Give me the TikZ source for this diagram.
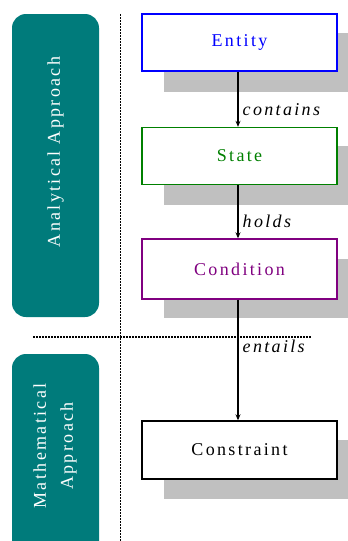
\documentclass[tikz,border=0pt]{standalone}
\usepackage{fontspec}
\setmainfont{Liberation Serif}
\usetikzlibrary{arrows.meta}
\definecolor{tealband}{RGB}{0,123,123}
\definecolor{shadowgray}{RGB}{192,192,192}
\definecolor{entityblue}{RGB}{0,0,255}
\definecolor{stategreen}{RGB}{0,128,0}
\definecolor{condpurple}{RGB}{128,0,128}
\newcommand{\spaced}{\addfontfeatures{LetterSpace=13}}
\tikzset{
  conceptbox/.style={draw, line width=1.4pt, fill=white, minimum width=195pt,
    minimum height=57pt, inner sep=0pt, font=\fontsize{18}{21}\selectfont\spaced},
  boxshadow/.style={fill=shadowgray, draw=none, minimum width=195pt,
    minimum height=59pt, inner sep=0pt},
  band/.style={fill=tealband, rounded corners=14pt},
  bandlabel/.style={text=white, rotate=90, font=\fontsize{18}{27}\selectfont\spaced,
    align=center, inner sep=0pt},
  flow/.style={line width=1.4pt, -{Stealth[length=6pt,width=5pt]}},
  flowlabel/.style={font=\fontsize{18}{21}\selectfont\itshape\spaced,
    anchor=west, inner sep=0pt, xshift=4pt},
  divider/.style={line width=1.6pt, dash pattern=on 1.5pt off 1.5pt}
}
\begin{document}
\begin{tikzpicture}[x=1pt,y=-1pt]
  \useasboundingbox (0,0) rectangle (348,541);
  \clip (0,0) rectangle (348,541);

  % approach bands on the left
  \fill[band] (12,14) rectangle (99,317);
  \fill[band] (12,354) rectangle (99,560);
  \node[bandlabel] (analytical) at (55.5,152) {Analytical Approach};
  \node[bandlabel] (mathematical) at (55,446) {Mathematical\\Approach};

  % dividers between the bands and the concepts
  \coordinate (vtop) at (120.5,14);
  \coordinate (vbot) at (120.5,541);
  \coordinate (hleft) at (33,337);
  \coordinate (hright) at (312,337);
  \draw[divider] (vtop) -- (vbot);
  \draw[divider] (hleft) -- (hright);

  % drop shadows
  \node[boxshadow] (entityshadow) at (261,62) {};
  \node[boxshadow] (stateshadow) at (261,175.5) {};
  \node[boxshadow] (conditionshadow) at (261,288) {};
  \node[boxshadow] (constraintshadow) at (261,469) {};

  % concepts
  \node[conceptbox, draw=entityblue, text=entityblue] (entity) at (239.5,42.5) {Entity};
  \node[conceptbox, draw=stategreen, text=stategreen] (state) at (239.5,156) {State};
  \node[conceptbox, draw=condpurple, text=condpurple, minimum height=60pt] (condition) at (239.5,269) {Condition};
  \node[conceptbox, draw=black, text=black, minimum height=58pt] (constraint) at (239.5,450) {Constraint};

  % relations
  \draw[flow] ([xshift=-1.5pt]entity.south) -- ([xshift=-1.5pt]state.north)
    node[flowlabel, pos=0.69] (containslbl) {contains};
  \draw[flow] ([xshift=-1.5pt]state.south) -- ([xshift=-1.5pt]condition.north)
    node[flowlabel, pos=0.69] (holdslbl) {holds};
  \draw[flow] ([xshift=-1.5pt]condition.south) -- ([xshift=-1.5pt]constraint.north)
    node[flowlabel, pos=0.39] (entailslbl) {entails};
\end{tikzpicture}
\end{document}
